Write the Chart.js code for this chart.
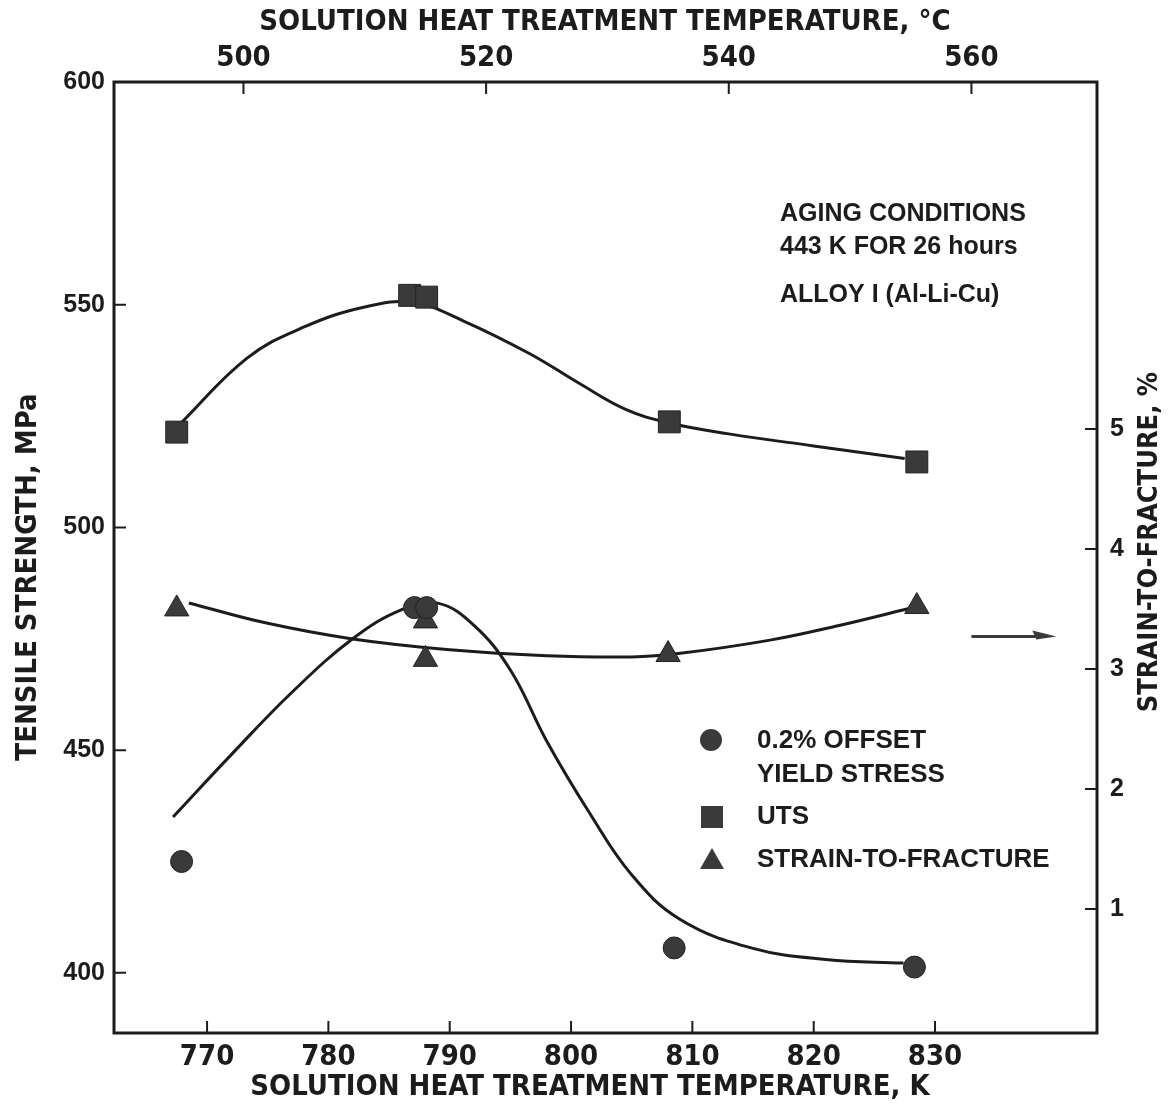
<!DOCTYPE html>
<html>
<head>
<meta charset="utf-8">
<script src="https://cdn.jsdelivr.net/npm/chart.js@4.4.1/dist/chart.umd.min.js"></script>
<style>
  html, body { margin: 0; padding: 0; background: #fff; }
</style>
</head>
<body>
<canvas id="chart" width="1172" height="1106"></canvas>
<script>
// tick labels
const kTicks = [770, 780, 790, 800, 810, 820, 830];
const cTicks = [500, 520, 540, 560];
const mpaTicks = [400, 450, 500, 550, 600];
const strainTicks = [1, 2, 3, 4, 5];

// measured points (K, MPa / %)
const utsTemp = [767.5, 786.7, 788.1, 808.1, 828.5];
const utsMPa = [521.4, 552.1, 551.7, 523.7, 514.7];
const yieldTemp = [767.9, 787.1, 788.1, 808.5, 828.3];
const yieldMPa = [425, 482, 482, 405.6, 401.3];
const strainTemp = [767.5, 788.0, 788.0, 808.0, 828.5];
const strainPct = [3.5, 3.4, 3.08, 3.12, 3.52];

// hand-faired curves
const utsCurveT = [767.7, 773.3, 778, 783, 787, 791.1, 796.6, 800.7, 804.5, 808, 813, 820, 827.5];
const utsCurveV = [523, 538, 545, 549.5, 550.5, 546.4, 539, 532.3, 526.5, 523.5, 521, 518.3, 515.5];
const yieldCurveT = [767.2, 772, 777, 782, 786, 789, 792, 795, 798, 801.5, 805, 809, 815, 821, 827.4];
const yieldCurveV = [435, 449, 463, 475, 481.5, 483, 478, 468, 452, 436, 422, 412, 405.5, 403, 402.2];
const strainCurveT = [768.5, 775, 782, 790, 798, 805, 809, 816.4, 822, 828.5];
const strainCurveV = [3.55, 3.38, 3.25, 3.16, 3.11, 3.1, 3.13, 3.24, 3.36, 3.52];

// arrow pointing at the right-hand axis (K, %)
const arrowFrom = [833, 3.27];
const arrowTo = [840, 3.27];

const INK = '#1c1c1c';
const MARK = '#3a3a3a';
const NARROW = '"Liberation Sans Narrow", "DejaVu Sans Condensed", "Liberation Sans", sans-serif';
const SANS = '"Liberation Sans", Arial, sans-serif';

const pts = (xs, ys) => xs.map((x, i) => ({ x, y: ys[i] }));

function curve(label, xs, ys, axis) {
  return {
    label, data: pts(xs, ys), yAxisID: axis,
    showLine: true, borderColor: INK, borderWidth: 3,
    pointRadius: 0, tension: 0.4, order: 2
  };
}

function marks(label, xs, ys, axis, style, r) {
  return {
    label, data: pts(xs, ys), yAxisID: axis, showLine: false,
    pointStyle: style, pointRadius: r, backgroundColor: MARK,
    borderColor: '#222', borderWidth: 1, order: 1
  };
}

const framePlugin = {
  id: 'frame',
  afterDatasetsDraw(chart) {
    const { ctx, chartArea: a, scales } = chart;
    const x = scales.x, xc = scales.xc, y = scales.y, y2 = scales.y2;
    ctx.save();
    ctx.strokeStyle = INK;
    ctx.fillStyle = INK;

    // frame
    ctx.lineWidth = 3;
    ctx.strokeRect(a.left, a.top, a.right - a.left, a.bottom - a.top);

    // inward ticks
    ctx.lineWidth = 2;
    ctx.beginPath();
    kTicks.forEach(v => { const p = x.getPixelForValue(v); ctx.moveTo(p, a.bottom); ctx.lineTo(p, a.bottom - 12); });
    cTicks.forEach(v => { const p = xc.getPixelForValue(v); ctx.moveTo(p, a.top); ctx.lineTo(p, a.top + 12); });
    mpaTicks.forEach(v => { const p = y.getPixelForValue(v); ctx.moveTo(a.left, p); ctx.lineTo(a.left + 12, p); });
    strainTicks.forEach(v => { const p = y2.getPixelForValue(v); ctx.moveTo(a.right, p); ctx.lineTo(a.right - 12, p); });
    ctx.stroke();

    // tick labels
    ctx.textBaseline = 'middle';
    ctx.textAlign = 'center';
    ctx.font = 'bold 29px ' + NARROW;
    kTicks.forEach(v => ctx.fillText(String(v), x.getPixelForValue(v), a.bottom + 24));
    cTicks.forEach(v => ctx.fillText(String(v), xc.getPixelForValue(v), a.top - 24));
    ctx.font = 'bold 25px ' + SANS;
    ctx.textAlign = 'right';
    mpaTicks.forEach(v => ctx.fillText(String(v), a.left - 9, y.getPixelForValue(v)));
    ctx.textAlign = 'left';
    strainTicks.forEach(v => ctx.fillText(String(v), a.right + 13, y2.getPixelForValue(v)));

    // axis titles
    ctx.textAlign = 'center';
    ctx.font = 'bold 29px ' + NARROW;
    ctx.fillText('SOLUTION HEAT TREATMENT TEMPERATURE, K', 590, 1087);
    ctx.fillText('SOLUTION HEAT TREATMENT TEMPERATURE, \u00b0C', 605, 22);
    ctx.save();
    ctx.translate(28, 577);
    ctx.rotate(-Math.PI / 2);
    ctx.fillText('TENSILE STRENGTH, MPa', 0, 0);
    ctx.restore();
    ctx.font = 'bold 27px ' + NARROW;
    ctx.save();
    ctx.translate(1150, 542);
    ctx.rotate(-Math.PI / 2);
    ctx.fillText('STRAIN-TO-FRACTURE, %', 0, 0);
    ctx.restore();

    // notes
    ctx.textAlign = 'left';
    ctx.font = 'bold 25px ' + SANS;
    ctx.fillText('AGING CONDITIONS', 780, 214);
    ctx.fillText('443 K FOR 26 hours', 780, 247);
    ctx.fillText('ALLOY I (Al-Li-Cu)', 780, 295);

    // legend
    ctx.font = 'bold 26px ' + SANS;
    ctx.fillText('0.2% OFFSET', 757, 741);
    ctx.fillText('YIELD STRESS', 757, 775);
    ctx.fillText('UTS', 757, 817);
    ctx.fillText('STRAIN-TO-FRACTURE', 757, 860);
    ctx.fillStyle = MARK;
    ctx.beginPath(); ctx.arc(711, 740, 11, 0, Math.PI * 2); ctx.fill();
    ctx.fillRect(701, 806, 22, 22);
    ctx.beginPath(); ctx.moveTo(712, 848); ctx.lineTo(724, 869); ctx.lineTo(700, 869); ctx.closePath(); ctx.fill();

    // arrow
    const ax0 = x.getPixelForValue(arrowFrom[0]), ay0 = y2.getPixelForValue(arrowFrom[1]);
    const ax1 = x.getPixelForValue(arrowTo[0]), ay1 = y2.getPixelForValue(arrowTo[1]);
    ctx.strokeStyle = MARK;
    ctx.lineWidth = 3;
    ctx.beginPath(); ctx.moveTo(ax0, ay0); ctx.lineTo(ax1 - 14, ay1); ctx.stroke();
    ctx.fillStyle = MARK;
    ctx.beginPath(); ctx.moveTo(ax1, ay1); ctx.lineTo(ax1 - 24, ay1 - 6); ctx.lineTo(ax1 - 20, ay1 + 3); ctx.closePath(); ctx.fill();
    ctx.restore();
  }
};

new Chart(document.getElementById('chart'), {
  type: 'scatter',
  data: {
    datasets: [
      curve('UTS fit', utsCurveT, utsCurveV, 'y'),
      curve('Yield fit', yieldCurveT, yieldCurveV, 'y'),
      curve('Strain fit', strainCurveT, strainCurveV, 'y2'),
      marks('UTS', utsTemp, utsMPa, 'y', 'rect', 15.5),
      marks('0.2% OFFSET YIELD STRESS', yieldTemp, yieldMPa, 'y', 'circle', 11),
      marks('STRAIN-TO-FRACTURE', strainTemp, strainPct, 'y2', 'triangle', 14)
    ]
  },
  options: {
    responsive: false,
    animation: false,
    devicePixelRatio: 1,
    layout: { padding: { left: 114, top: 82, right: 75, bottom: 73 } },
    plugins: { legend: { display: false }, tooltip: { enabled: false } },
    scales: {
      x: { type: 'linear', min: 762.33, max: 843.35, display: false },
      xc: { type: 'linear', axis: 'x', position: 'top', min: 762.33 - 273, max: 843.35 - 273, display: false },
      y: { type: 'linear', min: 386.5, max: 600, display: false },
      y2: { type: 'linear', position: 'right', min: -0.033, max: 7.89, display: false }
    }
  },
  plugins: [framePlugin]
});
</script>
</body>
</html>
